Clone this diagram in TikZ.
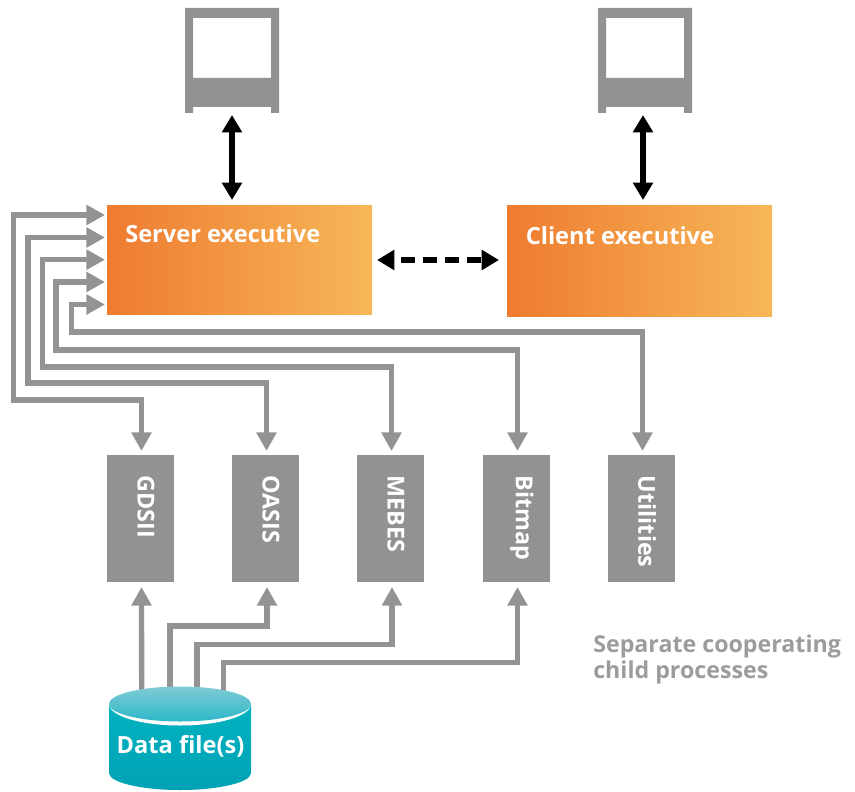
\documentclass[tikz,border=0pt]{standalone}
\usepackage{fontspec}
\setmainfont{Open Sans}
\usetikzlibrary{arrows.meta,calc}
\definecolor{arrowgray}{HTML}{939394}
\definecolor{boxgray}{HTML}{929293}
\definecolor{captgray}{HTML}{9C9C9C}
\definecolor{orangeL}{HTML}{EE7B30}
\definecolor{orangeR}{HTML}{F7B758}
\definecolor{tealA}{HTML}{00B2C0}
\definecolor{tealB}{HTML}{00A2B4}
\definecolor{tealTop}{HTML}{7FCBD5}
\definecolor{tealBot}{HTML}{2DB8C7}
\tikzset{
  x=0.75pt,y=-0.75pt,
  exec/.style={anchor=north west,inner sep=0pt,outer sep=0pt,minimum width=198.75pt,left color=orangeL,right color=orangeR,shading angle=90},
  execlabel/.style={anchor=west,inner sep=0pt,text=white,font=\bfseries\fontsize{17.7}{20}\selectfont},
  childbox/.style={anchor=north,inner sep=0pt,outer sep=0pt,fill=boxgray,minimum width=50.25pt,minimum height=95.25pt},
  childlabel/.style={anchor=west,rotate=-90,inner sep=0pt,text=white,font=\bfseries\fontsize{17.5}{20}\selectfont},
  link/.style={draw=arrowgray,line width=4pt,line join=miter},
  onehead/.style={link,-{Triangle[length=14pt,width=14.5pt]}},
  twohead/.style={link,{Triangle[length=14pt,width=14.5pt]}-{Triangle[length=14pt,width=14.5pt]}},
  blackarrow/.style={draw=black,line width=4.2pt,{Triangle[length=13pt,width=14.5pt]}-{Triangle[length=13pt,width=14.5pt]}},
  caption/.style={anchor=base west,inner sep=0pt,text=captgray,font=\bfseries\fontsize{17.4}{20}\selectfont}
}
\begin{document}
\begin{tikzpicture}
\useasboundingbox (0,0) rectangle (855,791);
% monitors
\foreach \nm/\X in {servermon/185,clientmon/598}{
  \fill[boxgray,even odd rule] (\X,8) -- ++(94,0) -- ++(0,105) -- ++(-8,0) -- ++(0,-6) -- ++(-78,0) -- ++(0,6) -- ++(-8,0) -- cycle
     (\X+8,18) rectangle (\X+86,78);
}
\coordinate (servermon) at (232,115);
\coordinate (clientmon) at (643,115);
% boxes
\node[exec,minimum height=81.5pt] (server) at (107,205.5) {};
\node[exec,minimum height=82.5pt] (client) at (507,206) {};
\node[execlabel] (serverlabel) at (125,234) {Server executive};
\node[execlabel] (clientlabel) at (525.5,235.5) {Client executive};
\node[childbox] (gdsii) at (140.5,455) {};
\node[childbox] (oasis) at (265.5,455) {};
\node[childbox] (mebes) at (390.5,455) {};
\node[childbox] (bitmap) at (516.5,455) {};
\node[childbox] (utilities) at (641.5,455) {};
\node[childlabel] at (146,475.5) {GDSII};
\node[childlabel] at (271,475.5) {OASIS};
\node[childlabel] at (396,475.5) {MEBES};
\node[childlabel] at (522,475.5) {Bitmap};
\node[childlabel] at (647,475.5) {Utilities};
% server ports
\coordinate (p1) at (105,215);
\coordinate (p2) at (105,237.5);
\coordinate (p3) at (105,259.7);
\coordinate (p4) at (105,282);
\coordinate (p5) at (105,304.5);
% links child <-> server
\draw[twohead] (p1) -- (13.5,215) -- (13.5,400) -| ($(gdsii.north)+(1,-4)$);
\draw[twohead] (p2) -- (28,237.5) -- (28,383) -| ($(oasis.north)+(1,-4)$);
\draw[twohead] (p3) -- (42.5,259.7) -- (42.5,367) -| ($(mebes.north)+(1,-4)$);
\draw[twohead] (p4) -- (56,282) -- (56,350) -| ($(bitmap.north)+(1,-4)$);
\draw[twohead] (p5) -- (71.5,304.5) -- (71.5,332) -| ($(utilities.north)+(1,-4)$);
% executive links
\draw[blackarrow] (servermon) -- (servermon |- 0,200);
\draw[blackarrow] (clientmon) -- (clientmon |- 0,200);
\draw[blackarrow,dash pattern=on 10.5pt off 6pt,dash phase=10.5pt] (377,260) -- (499,260);
% data links
\coordinate (d1) at (141.7,700);
\coordinate (d2) at (170,700);
\coordinate (d3) at (197,700);
\coordinate (d4) at (223.7,700);
\draw[onehead] (d1) -- ($(gdsii.south)+(1,5)$);
\draw[onehead] (d2) |- (267,626) -- ($(oasis.south)+(1.5,5)$);
\draw[onehead] (d3) |- (392,644.5) -- ($(mebes.south)+(1.5,5)$);
\draw[onehead] (d4) |- (517.5,662.7) -- ($(bitmap.south)+(1,5)$);
% cylinder
\path[top color=tealA,bottom color=tealB] (109,704) -- (109,773) arc[start angle=180,end angle=0,x radius=71,y radius=17] -- (251,704) -- cycle;
\path[fill=white] (109,704) arc[start angle=180,end angle=0,x radius=71,y radius=21.5] -- cycle;
\path[top color=tealTop,bottom color=tealBot] (180,704) ellipse[x radius=71,y radius=17.5];
\node[inner sep=0pt,text=white,font=\bfseries\fontsize{17.7}{20}\selectfont] (data) at (180.5,746) {Data file(s)};
% caption
\node[caption] (cap1) at (593,652) {Separate cooperating};
\node[caption] (cap2) at (593,678) {child processes};
\end{tikzpicture}
\end{document}
